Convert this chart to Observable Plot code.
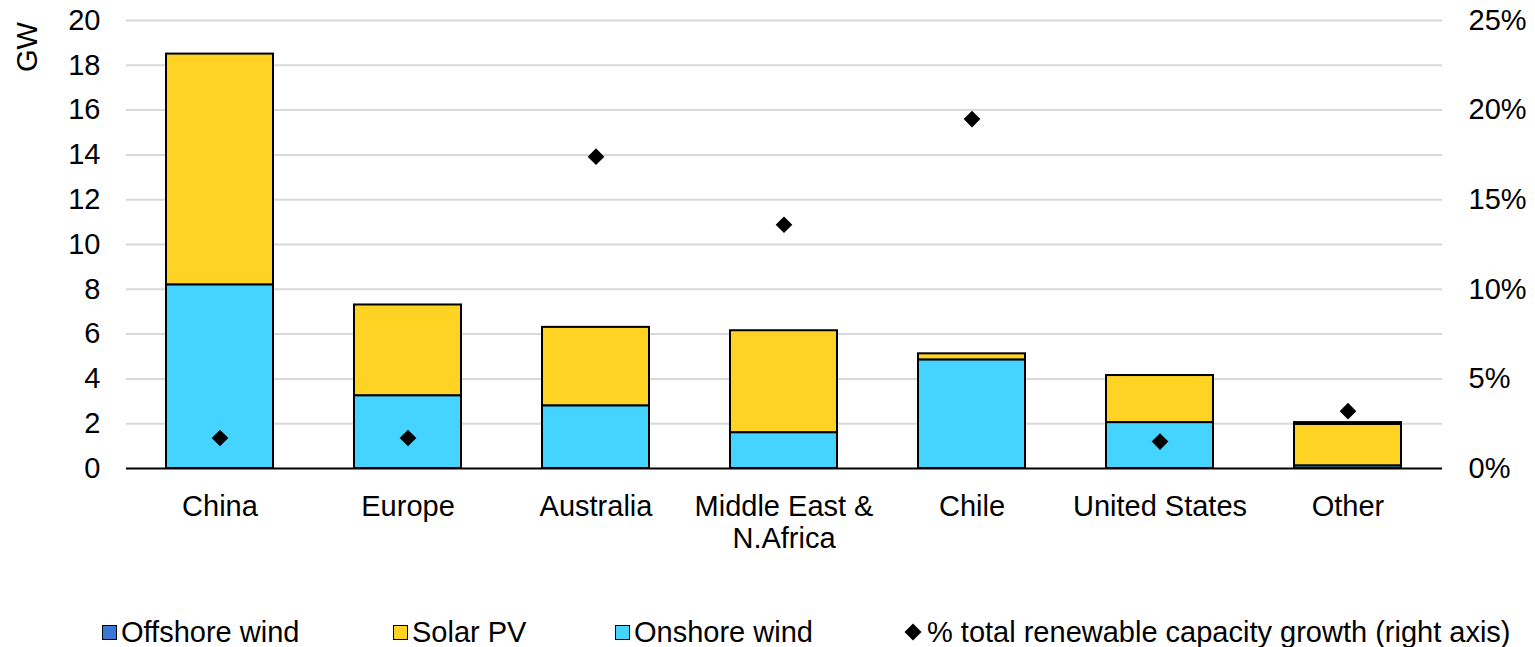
<!DOCTYPE html>
<html>
<head>
<meta charset="utf-8">
<script src="https://cdn.jsdelivr.net/npm/d3@7"></script>
<script src="https://cdn.jsdelivr.net/npm/@observablehq/plot@0.6"></script>
<style>
  html, body { margin: 0; padding: 0; background: #fff; }
  body { width: 1535px; height: 647px; position: relative; overflow: hidden; font-family: "Liberation Sans", Arial, sans-serif; }
  #legend { position: absolute; left: 0; top: 614px; width: 1535px; height: 36px; font-size: 29px; color: #000; }
  .item { position: absolute; top: 0; display: flex; align-items: center; height: 36px; white-space: nowrap; }
  .sw { width: 15px; height: 15px; border: 1.5px solid #000; margin-right: 4px; box-sizing: border-box; }
  .dia { width: 12px; height: 12px; background: #000; transform: rotate(45deg); margin: 0 8px 0 4px; }
  #ylab { position: absolute; left: 27px; top: 47px; font-size: 29px; color: #000; transform: translate(-50%, -50%) rotate(-90deg); white-space: nowrap; line-height: 1; }
</style>
</head>
<body>
<div id="chart"></div>
<div id="ylab">GW</div>
<div id="legend"></div>
<script>
const categories = ["China", "Europe", "Australia", "Middle East & N.Africa", "Chile", "United States", "Other"];
const onshoreWind = [8.2, 3.25, 2.8, 1.6, 4.85, 2.05, 0.12];
const solarPV = [10.3, 4.05, 3.5, 4.55, 0.27, 2.1, 1.85];
const offshoreWind = [0, 0, 0, 0, 0, 0, 0.08];
const growthPct = [1.7, 1.7, 17.4, 13.6, 19.5, 1.5, 3.2];
const seriesNames = ["Offshore wind", "Solar PV", "Onshore wind"];
const seriesColors = ["#3A78D8", "#FFD324", "#45D3FF"];
const leftTicks = [0, 2, 4, 6, 8, 10, 12, 14, 16, 18, 20];
const rightTicks = [0, 5, 10, 15, 20, 25];

const yMax = 20, pMax = 25;
const toLeft = p => p * yMax / pMax;

const rows = [];
categories.forEach((c, i) => {
  rows.push({cat: c, series: "Onshore wind", value: onshoreWind[i]});
  rows.push({cat: c, series: "Solar PV", value: solarPV[i]});
  rows.push({cat: c, series: "Offshore wind", value: offshoreWind[i]});
});
const barRows = rows.filter(d => d.value > 0);
const dots = categories.map((c, i) => ({cat: c, pct: growthPct[i]}));

const plot = Plot.plot({
  width: 1535,
  height: 612,
  marginLeft: 126,
  marginRight: 93,
  marginTop: 20,
  marginBottom: 144,
  style: {fontFamily: "'Liberation Sans', Arial, sans-serif", fontSize: "29px", color: "#000", background: "#fff"},
  x: {type: "band", domain: categories, paddingInner: 0.43, paddingOuter: 0.215},
  y: {domain: [0, yMax]},
  color: {domain: seriesNames, range: seriesColors},
  marks: [
    Plot.ruleY(leftTicks.filter(d => d > 0), {stroke: "#d9d9d9", strokeWidth: 2}),
    Plot.barY(barRows, {x: "cat", y: "value", fill: "series", stroke: "#000", strokeWidth: 2}),
    Plot.ruleY([0], {stroke: "#000", strokeWidth: 2}),
    Plot.dot(dots, {x: "cat", y: d => toLeft(d.pct), symbol: "diamond2", r: 7.5, fill: "#000", stroke: "none"}),
    Plot.axisY({anchor: "left", ticks: leftTicks, tickSize: 0, tickPadding: 26, label: null, fontSize: 29}),
    Plot.axisY({anchor: "right", ticks: rightTicks.map(toLeft), tickFormat: d => Math.round(d * pMax / yMax) + "%", tickSize: 0, tickPadding: 26, label: null, fontSize: 29}),
    Plot.axisX({anchor: "bottom", tickSize: 0, tickPadding: 25, label: null, fontSize: 29, lineHeight: 1.1,
      tickFormat: d => d === "Middle East & N.Africa" ? "Middle East &\nN.Africa" : d})
  ]
});
document.getElementById("chart").appendChild(plot);

const legendItems = [
  {label: seriesNames[0], color: seriesColors[0], left: 102, type: "sq"},
  {label: seriesNames[1], color: seriesColors[1], left: 393, type: "sq"},
  {label: seriesNames[2], color: seriesColors[2], left: 615, type: "sq"},
  {label: "% total renewable capacity growth (right axis)", color: "#000", left: 903, type: "dia"}
];
const leg = document.getElementById("legend");
legendItems.forEach(it => {
  const div = document.createElement("div");
  div.className = "item";
  div.style.left = it.left + "px";
  const mk = document.createElement("span");
  if (it.type === "sq") { mk.className = "sw"; mk.style.background = it.color; }
  else { mk.className = "dia"; }
  div.appendChild(mk);
  const t = document.createElement("span");
  t.textContent = it.label;
  div.appendChild(t);
  leg.appendChild(div);
});
</script>
</body>
</html>
